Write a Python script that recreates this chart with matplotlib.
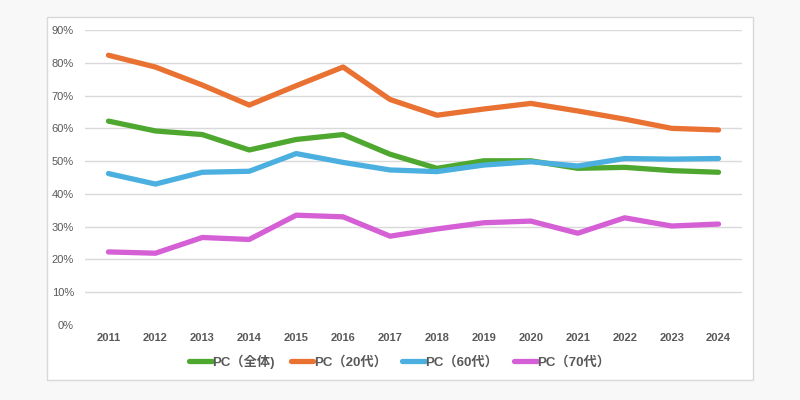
import matplotlib
matplotlib.use("Agg")
import matplotlib.pyplot as plt
from matplotlib.patches import Rectangle
from matplotlib.ticker import FuncFormatter

plt.rcParams['font.family'] = ['Liberation Sans', 'Noto Sans CJK JP', 'DejaVu Sans']

years = list(range(2011, 2025))
pc_all = [62.2, 59.2, 58.1, 53.4, 56.6, 58.1, 52.1, 47.8, 50.1, 50.1, 47.8, 48.1, 47.1, 46.6]
pc_20s = [82.3, 78.7, 73.2, 67.1, 73.0, 78.7, 68.8, 64.0, 65.9, 67.6, 65.3, 62.8, 60.0, 59.5]
pc_60s = [46.2, 43.0, 46.6, 46.9, 52.3, 49.6, 47.3, 46.8, 48.8, 49.8, 48.5, 50.8, 50.6, 50.8]
pc_70s = [22.3, 21.9, 26.7, 26.1, 33.5, 33.0, 27.1, 29.3, 31.2, 31.7, 28.0, 32.7, 30.2, 30.8]
labels = ['PC（全体)', 'PC（20代）', 'PC（60代）', 'PC（70代）']
colors = ['#4ea72e', '#e97132', '#4bb0e0', '#d55fd5']
yticks = [0, 10, 20, 30, 40, 50, 60, 70, 80, 90]

fig = plt.figure(figsize=(8, 4), dpi=100, facecolor='#f8f8f8')
# chart area frame
fig.patches.append(Rectangle((47 / 800, 20 / 400), 706 / 800, 363 / 400,
                             transform=fig.transFigure, facecolor='white',
                             edgecolor='#d9d9d9', linewidth=1, zorder=-10))

ax = fig.add_axes([85 / 800, 75 / 400, 657 / 800, 295 / 400])
ax.set_facecolor('none')

for vals, lab, col in zip([pc_all, pc_20s, pc_60s, pc_70s], labels, colors):
    ax.plot(years, vals, color=col, linewidth=3.8, label=lab,
            solid_capstyle='round', solid_joinstyle='round', zorder=3)

ax.set_xlim(2010.5, 2024.5)
ax.set_ylim(0, 90)
ax.set_yticks(yticks)
ax.yaxis.set_major_formatter(FuncFormatter(lambda v, p: f'{int(v)}%'))
ax.set_xticks(years)
ax.set_xticklabels([str(y) for y in years], fontweight='bold')
for y in yticks[1:]:
    ax.axhline(y, color='#d9d9d9', linewidth=1, zorder=1)

for s in ax.spines.values():
    s.set_visible(False)
ax.tick_params(axis='both', length=0, colors='#595959', labelsize=8)
ax.tick_params(axis='y', pad=8)
ax.tick_params(axis='x', pad=6)

leg = ax.legend(loc='upper center', bbox_to_anchor=(0.479, -0.06), ncol=4,
                frameon=False, handlelength=1.7, columnspacing=1.2,
                handletextpad=0.05, prop={'size': 9.5, 'weight': 'bold'})
for t in leg.get_texts():
    t.set_color('#595959')

fig.savefig('out.png', dpi=100, facecolor=fig.get_facecolor())
